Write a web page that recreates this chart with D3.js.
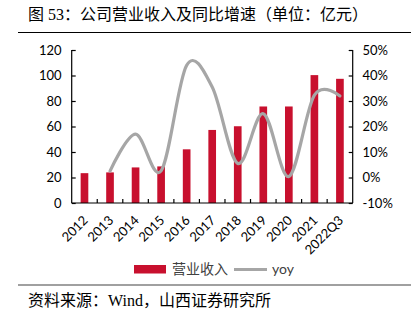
<!DOCTYPE html>
<html><head><meta charset="utf-8">
<script src="https://cdn.jsdelivr.net/npm/d3@7/dist/d3.min.js"></script>
<style>
body{margin:0;background:#fff;}
svg{display:block;}
</style></head>
<body>
<svg id="c" width="415" height="325"></svg>
<script>
const categories = ["2012","2013","2014","2015","2016","2017","2018","2019","2020","2021","2022Q3"];
const revenue = [23.4, 24.0, 27.9, 28.7, 42.1, 57.3, 60.2, 75.7, 75.7, 100.3, 97.4];
const yoyCats = ["2013","2014","2015","2016","2017","2018","2019","2020","2021","2022Q3"];
const yoy = [2.5, 17.0, 2.6, 44.0, 35.5, 5.5, 25.0, 0.4, 32.3, 32.0];
const leftTicks = [0,20,40,60,80,100,120];
const rightTicks = [-10,0,10,20,30,40,50];
const titleText = "图 53：公司营业收入及同比增速（单位：亿元）";
const sourceText = "资料来源：Wind，山西证券研究所";
const legendLabels = ["营业收入","yoy"];

const svg = d3.select("#c");
const L = 71.7, R = 352.7, T = 50, B = 203;
const x = d3.scaleBand().domain(categories).range([L, R]).paddingInner(0.7).paddingOuter(0.35);
const yL = d3.scaleLinear().domain([0,120]).range([B, T]);
const yR = d3.scaleLinear().domain([-10,50]).range([B, T]);
const barColor = "#C8102E", lineColor = "#A6A6A6";
const axisFont = "Lato, 'Liberation Sans', sans-serif";
const cjk = "'Liberation Serif', 'Noto Sans CJK SC', serif";

// title
svg.append("text").attr("x", 28).attr("y", 20).attr("font-family", cjk)
  .attr("font-size", 16).attr("fill", "#000").text(titleText);
svg.append("line").attr("x1", 18).attr("x2", 411).attr("y1", 32.5).attr("y2", 32.5)
  .attr("stroke", "#000").attr("stroke-width", 1);

// bars
svg.append("g").selectAll("rect").data(categories).join("rect")
  .attr("x", d => x(d)).attr("width", x.bandwidth())
  .attr("y", (d,i) => yL(revenue[i])).attr("height", (d,i) => yL(0) - yL(revenue[i]))
  .attr("fill", barColor);

// axes
const axL = svg.append("g").attr("transform", `translate(${L},0)`)
  .call(d3.axisRight(yL).tickValues(leftTicks).tickSize(4).tickFormat(""));
const axR = svg.append("g").attr("transform", `translate(${R},0)`)
  .call(d3.axisLeft(yR).tickValues(rightTicks).tickSize(4).tickFormat(""));
[axL, axR].forEach(a => { a.selectAll("path,line").attr("stroke", "#000").attr("stroke-width", 1.2); a.select(".domain").attr("d", null); });
svg.append("line").attr("x1", L).attr("x2", L).attr("y1", T).attr("y2", B).attr("stroke", "#000").attr("stroke-width", 1.2);
svg.append("line").attr("x1", R).attr("x2", R).attr("y1", T).attr("y2", B).attr("stroke", "#000").attr("stroke-width", 1.2);
// tick labels
svg.append("g").selectAll("text").data(leftTicks).join("text")
  .attr("x", 61.5).attr("y", d => yL(d)).attr("dy", "0.35em").attr("text-anchor", "end")
  .attr("font-family", axisFont).attr("font-size", 13).attr("fill", "#000").text(d => d);
svg.append("g").selectAll("text").data(rightTicks).join("text")
  .attr("x", 362.5).attr("y", d => yR(d)).attr("dy", "0.35em").attr("text-anchor", "start")
  .attr("font-family", axisFont).attr("font-size", 13).attr("fill", "#000").text(d => d + "%");
// x axis
svg.append("line").attr("x1", L).attr("x2", R).attr("y1", B).attr("y2", B).attr("stroke", "#000").attr("stroke-width", 1.2);
const step = x.step();
svg.append("g").selectAll("line").data(categories.slice(1)).join("line")
  .attr("x1", d => x(d) + x.bandwidth()/2 - step/2).attr("x2", d => x(d) + x.bandwidth()/2 - step/2)
  .attr("y1", B).attr("y2", B - 4).attr("stroke", "#000").attr("stroke-width", 1.2);
svg.append("g").selectAll("text").data(categories).join("text")
  .attr("transform", d => `translate(${x(d) + x.bandwidth()/2 + 1},${B + 15}) rotate(-45)`)
  .attr("text-anchor", "end").attr("dy", "0.35em")
  .attr("font-family", axisFont).attr("font-size", 13).attr("fill", "#000").text(d => d);

// yoy line
const line = d3.line().x((d,i) => x(yoyCats[i]) + x.bandwidth()/2).y(d => yR(d)).curve(d3.curveCardinal.tension(0));
svg.append("path").datum(yoy).attr("d", line).attr("fill", "none")
  .attr("stroke", lineColor).attr("stroke-width", 3.2).attr("stroke-linecap", "round");

// legend
svg.append("rect").attr("x", 134).attr("y", 265).attr("width", 32).attr("height", 8.5).attr("fill", barColor);
svg.append("text").attr("x", 172).attr("y", 269.5).attr("dy", "0.35em").attr("font-family", "'Noto Sans CJK SC', sans-serif")
  .attr("font-size", 14).attr("fill", "#404040").text(legendLabels[0]);
svg.append("line").attr("x1", 234).attr("x2", 267).attr("y1", 269.5).attr("y2", 269.5).attr("stroke", lineColor).attr("stroke-width", 3);
svg.append("text").attr("x", 272).attr("y", 269.5).attr("dy", "0.35em").attr("font-family", axisFont)
  .attr("font-size", 14).attr("fill", "#404040").text(legendLabels[1]);

// source
svg.append("line").attr("x1", 18).attr("x2", 411).attr("y1", 285).attr("y2", 285)
  .attr("stroke", "#808080").attr("stroke-width", 1.5);
svg.append("text").attr("x", 28).attr("y", 306).attr("font-family", cjk)
  .attr("font-size", 16).attr("fill", "#000").text(sourceText);
</script>
</body></html>
